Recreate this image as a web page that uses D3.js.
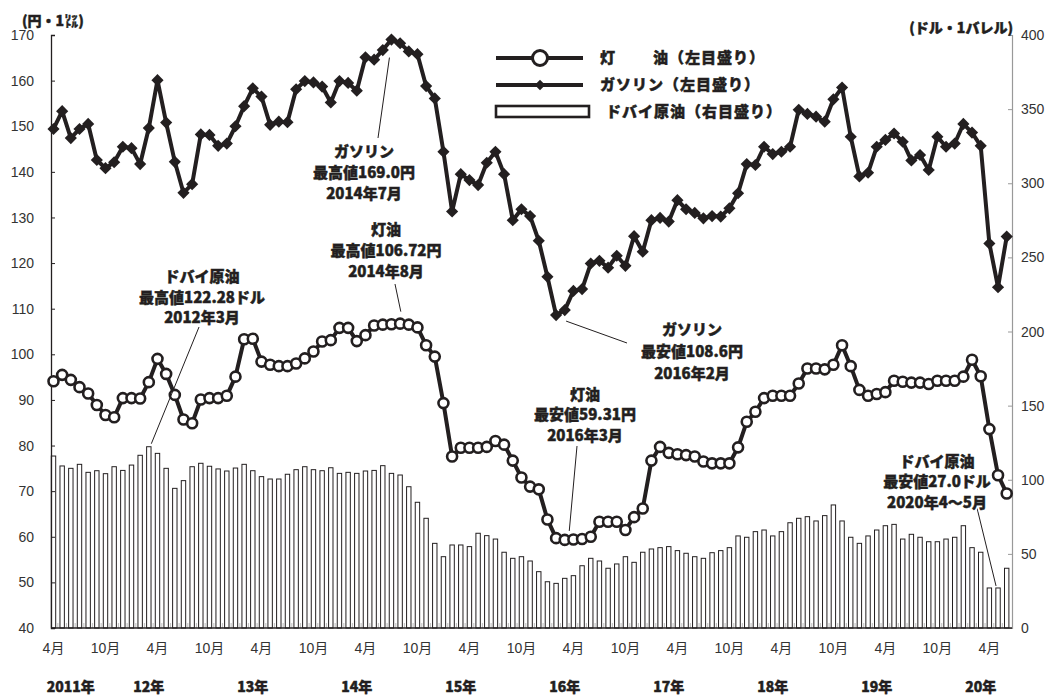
<!DOCTYPE html>
<html><head><meta charset="utf-8">
<script src="https://cdn.jsdelivr.net/npm/d3@7"></script>
<style>body{margin:0;background:#fff} svg{display:block}</style>
</head><body><svg id="c" width="1051" height="695"></svg>
<script>
// ---- data ----
const months = [
 "2011-04","2011-05","2011-06","2011-07","2011-08","2011-09","2011-10","2011-11","2011-12",
 "2012-01","2012-02","2012-03","2012-04","2012-05","2012-06","2012-07","2012-08","2012-09","2012-10","2012-11","2012-12",
 "2013-01","2013-02","2013-03","2013-04","2013-05","2013-06","2013-07","2013-08","2013-09","2013-10","2013-11","2013-12",
 "2014-01","2014-02","2014-03","2014-04","2014-05","2014-06","2014-07","2014-08","2014-09","2014-10","2014-11","2014-12",
 "2015-01","2015-02","2015-03","2015-04","2015-05","2015-06","2015-07","2015-08","2015-09","2015-10","2015-11","2015-12",
 "2016-01","2016-02","2016-03","2016-04","2016-05","2016-06","2016-07","2016-08","2016-09","2016-10","2016-11","2016-12",
 "2017-01","2017-02","2017-03","2017-04","2017-05","2017-06","2017-07","2017-08","2017-09","2017-10","2017-11","2017-12",
 "2018-01","2018-02","2018-03","2018-04","2018-05","2018-06","2018-07","2018-08","2018-09","2018-10","2018-11","2018-12",
 "2019-01","2019-02","2019-03","2019-04","2019-05","2019-06","2019-07","2019-08","2019-09","2019-10","2019-11","2019-12",
 "2020-01","2020-02","2020-03","2020-04","2020-05","2020-06"
];
const kerosene = [
 94.1,95.5,94.4,92.8,91.4,88.9,86.7,86.2,90.4,
 90.4,90.3,93.9,99.0,95.7,91.1,85.7,84.9,90.1,90.4,90.4,90.9,
 95.1,103.3,103.4,98.4,97.7,97.4,97.4,98.0,99.1,100.6,102.8,103.1,
 105.8,105.8,102.9,104.2,106.3,106.5,106.6,106.72,106.5,105.9,102.0,99.5,
 89.3,77.6,79.5,79.5,79.5,79.7,81.0,80.2,76.7,73.0,71.0,70.4,
 63.8,59.7,59.31,59.4,59.5,60.0,63.3,63.3,63.3,61.5,64.3,66.2,
 76.7,79.7,78.4,78.1,77.9,77.6,76.5,76.1,76.1,76.1,79.6,85.2,
 87.4,90.4,90.9,90.9,90.9,93.6,96.9,96.9,96.7,97.7,102.0,97.4,
 92.2,90.9,91.3,91.7,94.2,94.0,93.8,93.8,93.5,94.2,94.2,94.2,
 95.1,98.8,95.2,83.6,73.5,69.5
];
const gasoline = [
 149.4,153.3,147.4,149.4,150.5,142.6,140.8,142.1,145.5,
 145.2,141.7,149.6,160.1,150.8,142.2,135.4,137.3,148.2,148.1,145.7,146.2,
 150.0,154.4,158.3,156.5,150.3,151.0,150.9,158.1,159.9,159.6,158.7,155.2,
 159.9,159.5,157.8,165.1,164.6,166.7,169.0,168.2,166.4,165.8,158.8,156.1,
 144.4,131.3,139.5,138.2,137.1,142.0,144.4,139.5,129.4,131.8,130.3,124.9,
 117.0,108.6,109.7,113.9,114.3,119.9,120.5,119.0,121.6,119.4,125.9,122.5,
 129.4,129.9,129.1,133.8,131.8,131.0,129.8,130.3,130.2,132.0,135.3,141.7,
 141.5,145.5,143.9,144.4,145.5,153.6,152.7,152.1,151.0,155.9,158.5,147.7,
 139.0,139.8,145.5,147.0,148.4,146.6,142.5,143.7,140.4,147.7,145.5,146.2,
 150.5,148.6,145.7,124.3,114.7,125.8
];
const dubai = [
 116.0,109.3,107.7,110.4,105.0,106.1,104.1,108.8,106.3,
 109.9,116.5,122.28,117.8,107.7,94.2,99.4,108.8,111.1,109.1,107.3,105.9,
 107.9,110.4,106.1,102.1,100.5,100.5,103.7,106.8,108.8,106.8,106.1,108.1,
 104.3,105.0,104.3,105.9,106.3,109.5,104.3,103.2,95.3,84.8,74.0,57.1,
 48.1,56.0,56.0,54.9,63.9,62.3,60.0,51.1,47.0,48.1,45.2,38.0,
 31.2,30.1,33.5,35.3,42.0,47.0,45.2,40.3,43.2,48.1,44.3,51.1,
 53.3,54.2,54.9,52.2,50.4,48.1,47.0,50.8,52.2,54.2,62.1,61.2,
 65.0,66.1,62.1,65.0,71.0,74.0,75.1,72.2,75.8,83.0,72.2,61.2,
 57.1,62.1,66.1,69.0,69.9,60.0,63.2,61.2,58.2,58.2,60.0,61.2,
 69.0,54.2,51.1,27.0,27.0,40.3
];
const tickMonths = ["2011-04","2011-10","2012-04","2012-10","2013-04","2013-10","2014-04","2014-10","2015-04","2015-10","2016-04","2016-10","2017-04","2017-10","2018-04","2018-10","2019-04","2019-10","2020-04"];
const tickLabels = ["4月","10月","4月","10月","4月","10月","4月","10月","4月","10月","4月","10月","4月","10月","4月","10月","4月","10月","4月"];
const yearMonths = ["2011-06","2012-03","2013-03","2014-03","2015-03","2016-03","2017-03","2018-03","2019-03","2020-03"];
const yearLabels = ["2011年","12年","13年","14年","15年","16年","17年","18年","19年","20年"];
const leftTicks = [40,50,60,70,80,90,100,110,120,130,140,150,160,170];
const rightTicks = [0,50,100,150,200,250,300,350,400];

// ---- drawing ----
const INK = "#231f20";
const svg = d3.select("#c");
const x = d3.scalePoint(months, [53.5, 1006.7]);
const yL = d3.scaleLinear([40,170],[628,35]);
const yR = d3.scaleLinear([0,400],[628,35]);
const jp = "'Noto Sans CJK JP','Noto Sans',sans-serif";
const num = "'Liberation Sans',Arial,'Noto Sans CJK JP',sans-serif";
const HEAVY = 900;
const heavy = sel => sel.attr("font-family",jp).attr("font-weight",HEAVY)
  .attr("fill",INK).attr("stroke",INK).attr("stroke-width",0.45);

// bottom light ticks between months
const step = x.step();
svg.append("g").selectAll("line").data(months.slice(0,-1)).join("line")
  .attr("x1", d=>x(d)+step/2).attr("x2", d=>x(d)+step/2)
  .attr("y1", 628).attr("y2", 623).attr("stroke","#c8c8c8").attr("stroke-width",1.2);

// bars
svg.append("g").selectAll("rect").data(dubai).join("rect")
  .attr("x",(d,i)=>x(months[i])-2.2).attr("width",4.4)
  .attr("y",d=>yR(d)).attr("height",d=>628-yR(d))
  .attr("fill","#fff").attr("stroke",INK).attr("stroke-width",1);

// axes
const gl = svg.append("g").attr("transform","translate(51,0)")
  .call(d3.axisRight(yL).tickValues(leftTicks).tickSize(4).tickFormat(""));
gl.select(".domain").attr("stroke",INK).attr("stroke-width",1.3);
gl.selectAll(".tick line").attr("stroke",INK);
svg.append("g").selectAll("text").data(leftTicks).join("text")
  .attr("x",34).attr("y",d=>yL(d)).attr("dy","0.36em").attr("text-anchor","end")
  .attr("font-family",num).attr("font-size",14).attr("fill","#333").text(d=>d);

const gr = svg.append("g").attr("transform","translate(1012,0)")
  .call(d3.axisLeft(yR).tickValues(rightTicks).tickSize(4).tickFormat(""));
gr.select(".domain").attr("stroke","#999").attr("stroke-width",1.2);
gr.selectAll(".tick line").attr("stroke","#999");
svg.append("g").selectAll("text").data(rightTicks).join("text")
  .attr("x",1021).attr("y",d=>yR(d)).attr("dy","0.36em").attr("text-anchor","start")
  .attr("font-family",num).attr("font-size",14).attr("fill","#333").text(d=>d);

svg.append("line").attr("x1",51).attr("x2",1012).attr("y1",628).attr("y2",628)
  .attr("stroke",INK).attr("stroke-width",1.3);

// month & year labels
svg.append("g").selectAll("text").data(tickMonths).join("text")
  .attr("x",d=>x(d)).attr("y",653).attr("text-anchor","middle")
  .attr("font-family",num).attr("font-size",14).attr("fill","#333")
  .text((d,i)=>tickLabels[i]);
svg.append("g").selectAll("text").data(yearMonths).join("text")
  .attr("x",d=>x(d)).attr("y",692).attr("text-anchor","middle")
  .attr("font-size",14).call(heavy)
  .text((d,i)=>yearLabels[i]);

// units
svg.append("text").attr("x",22).attr("y",26).attr("font-size",14).call(heavy).text("(円・1㍑)");
svg.append("text").attr("x",1013).attr("y",33).attr("text-anchor","end").attr("font-size",14).call(heavy).text("(ドル・1バレル)");

// lines
const line = d3.line().x((d,i)=>x(months[i])).y(d=>yL(d));
svg.append("path").datum(kerosene).attr("d", line)
  .attr("fill","none").attr("stroke",INK).attr("stroke-width",4).attr("stroke-linejoin","round");
svg.append("g").selectAll("circle").data(kerosene).join("circle")
  .attr("cx",(d,i)=>x(months[i])).attr("cy",d=>yL(d)).attr("r",5)
  .attr("fill","#fff").attr("stroke",INK).attr("stroke-width",2.6);

svg.append("path").datum(gasoline).attr("d", line)
  .attr("fill","none").attr("stroke",INK).attr("stroke-width",4).attr("stroke-linejoin","round");
const dia = d3.symbol(d3.symbolSquare, 74)();
svg.append("g").selectAll("path").data(gasoline).join("path")
  .attr("d",dia).attr("fill",INK)
  .attr("transform",(d,i)=>`translate(${x(months[i])},${yL(d)}) rotate(45)`);

// legend
const lg = svg.append("g");
lg.append("line").attr("x1",496).attr("x2",583).attr("y1",58).attr("y2",58).attr("stroke",INK).attr("stroke-width",4);
lg.append("circle").attr("cx",540).attr("cy",58).attr("r",7.5).attr("fill","#fff").attr("stroke",INK).attr("stroke-width",3);
lg.append("line").attr("x1",496).attr("x2",583).attr("y1",85).attr("y2",85).attr("stroke",INK).attr("stroke-width",4);
lg.append("path").attr("d",d3.symbol(d3.symbolSquare,56)()).attr("fill",INK).attr("transform","translate(540,85) rotate(45)");
lg.append("rect").attr("x",496).attr("y",106).attr("width",93).attr("height",11).attr("fill","#fff").attr("stroke",INK).attr("stroke-width",2.6);
const legText = [["灯",600,58],["油（左目盛り）",653,58],["ガソリン（左目盛り）",600,85],["ドバイ原油（右目盛り）",606,112]];
lg.selectAll("text").data(legText).join("text")
  .attr("x",d=>d[1]).attr("y",d=>d[2]).attr("dy","0.36em")
  .attr("font-size",15).attr("letter-spacing",1).call(heavy)
  .text(d=>d[0]);

// annotations
const notes = [
 {lines:["ガソリン","最高値169.0円","2014年7月"], cx:364, ys:[152,173,194], m:"2014-07", v:169.0, ax:yL, lead:[378,138], off:[-2,18]},
 {lines:["灯油","最高値106.72円","2014年8月"], cx:386, ys:[230,251,272], m:"2014-08", v:106.72, ax:yL, lead:[395,284], off:[0.7,-12]},
 {lines:["ドバイ原油","最高値122.28ドル","2012年3月"], cx:202, ys:[277,298,318], m:"2012-03", v:122.28, ax:yR, lead:[199,327], off:[2.5,-3]},
 {lines:["ガソリン","最安値108.6円","2016年2月"], cx:692, ys:[330,352,374], m:"2016-02", v:108.6, ax:yL, lead:[627,343], off:[10,6]},
 {lines:["灯油","最安値59.31円","2016年3月"], cx:585, ys:[395,415,436], m:"2016-03", v:59.31, ax:yL, lead:[577,446], off:[4.5,-9]},
 {lines:["ドバイ原油","最安値27.0ドル","2020年4～5月"], cx:937, ys:[462,482,503], m:"2020-05", v:27.0, ax:yR, lead:[977,508], off:[-2,-2]}
];
const ng = svg.append("g");
notes.forEach(n=>{
  ng.append("line").attr("x1",n.lead[0]).attr("y1",n.lead[1])
    .attr("x2",x(n.m)+n.off[0]).attr("y2",n.ax(n.v)+n.off[1])
    .attr("stroke",INK).attr("stroke-width",1);
  n.lines.forEach((t,k)=>{
    ng.append("text").attr("x",n.cx).attr("y",n.ys[k]).attr("dy","0.36em").attr("text-anchor","middle")
      .attr("font-family",jp).attr("font-weight",HEAVY).attr("font-size",15)
      .attr("fill","#fff").attr("stroke","#fff").attr("stroke-width",3.5).text(t);
    ng.append("text").attr("x",n.cx).attr("y",n.ys[k]).attr("dy","0.36em").attr("text-anchor","middle")
      .attr("font-size",15).call(heavy).text(t);
  });
});
</script></body></html>
